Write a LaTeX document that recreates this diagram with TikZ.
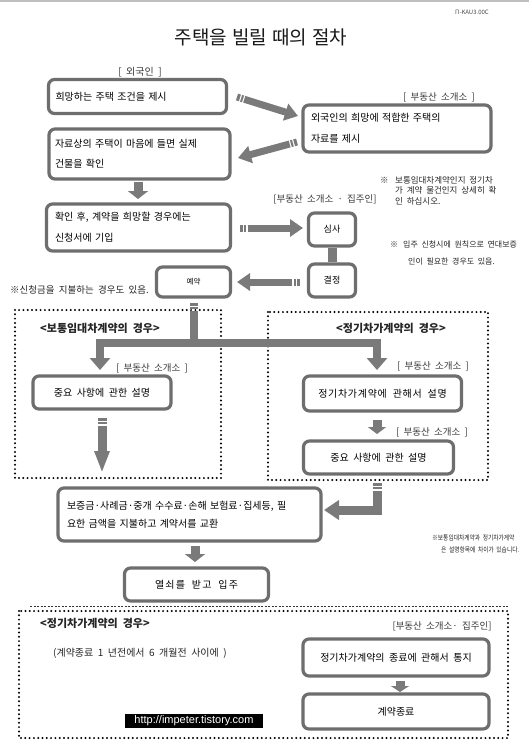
\documentclass[tikz,border=0pt]{standalone}
\usepackage{graphicx}
\usepackage{fontspec}
\setmainfont{Noto Sans CJK KR}[WordSpace=2]
\newfontfamily\urlfont{Liberation Sans}
\usetikzlibrary{arrows.meta}
\definecolor{boxgray}{HTML}{6E6E6E}
\definecolor{arrgray}{HTML}{7A7A7A}
\definecolor{lblgray}{HTML}{3A3A3A}
\newcommand{\fs}[2]{\fontsize{#1}{#2}\selectfont}
\begin{document}
\begin{tikzpicture}[x=1pt,y=-1pt,
  box/.style={draw=boxgray, line width=3.2pt, rounded corners=6pt, fill=white, inner sep=0pt, text=black},
  lbl/.style={text=lblgray, font=\fs{9.5}{9.5}, inner sep=0pt},
  note/.style={text=black!85, inner sep=0pt, anchor=base west},
  hdr/.style={text=black!85, font=\bfseries\fs{11}{11}, inner sep=0pt},
  fat/.style={draw=arrgray, line width=7pt, -{Triangle[length=13pt,width=17pt]}},
  tailstripe/.style={dash pattern=on 3pt off 1.3pt on 2pt off 1.3pt on 600pt},
  blockarr/.style={draw=arrgray, line width=9pt, -{Triangle[length=8pt,width=20pt]}},
  bar/.style={draw=arrgray, line width=8pt},
  dotframe/.style={draw=black, line width=2.2pt, line cap=round, dash pattern=on 0pt off 4.3pt}
]
\useasboundingbox (0,0) rectangle (529,756);
\fill[white] (0,0) rectangle (529,756);
\draw[black!25, line width=2pt] (0,1) -- (529,1);

% title and code
\node[inner sep=0pt, text=black!90, font=\fs{19}{19}] (title) at (261,37) {주택을\hspace{5pt}빌릴\hspace{5pt}때의\hspace{5pt}절차};
\node[inner sep=0pt, text=black!70, font=\fs{6}{6}] (code) at (472,12) {Π-KAU3.00C};

% labels
\node[lbl, font=\fs{10}{10}] (lfor) at (140,72) {[ 외국인 ]};
\node[lbl] (lre1) at (439,97) {[ 부동산 소개소 ]};
\node[lbl] (lre2) at (325,199) {[부동산 소개소 · 집주인]};
\node[lbl] (lre3) at (152,368) {[ 부동산 소개소 ]};
\node[lbl] (lre4) at (433,366) {[ 부동산 소개소 ]};
\node[lbl] (lre5) at (432,432) {[ 부동산 소개소 ]};
\node[lbl] (lre6) at (442,626) {[부동산 소개소· 집주인]};

% dotted frames
\draw[dotframe] (15,310) rectangle (221,478);
\draw[dotframe] (268,312) rectangle (488,480);
\draw[black!80, line width=0.6pt, dash pattern=on 2pt off 1.5pt] (30,606) -- (508,606);
\draw[dotframe] (19,611) rectangle (508,738);

% boxes
\node[box, minimum width=178pt, minimum height=34pt, text width=164pt, align=left, font=\fs{10}{20}] (b1) at (137.5,96.5) {희망하는 주택 조건을 제시};
\node[box, minimum width=188pt, minimum height=47pt, text width=172pt, align=left, font=\fs{10}{21}] (b2) at (397,128.5) {외국인의 희망에 적합한 주택의\\자료를 제시};
\node[box, minimum width=181pt, minimum height=50pt, text width=169pt, align=left, font=\fs{10}{20}] (b3) at (139.5,154) {\makebox[165pt][s]{자료상의 주택이 마음에 들면 실제}\\건물을 확인};
\node[box, minimum width=184pt, minimum height=47pt, text width=167pt, align=left, font=\fs{10}{21}] (b4) at (138.5,227.5) {\makebox[165pt][s]{확인 후, 계약을 희망할 경우에는}\\신청서에 기입};
\node[box, minimum width=47pt, minimum height=33pt, font=\fs{9}{9}] (sim) at (332,229.5) {심사};
\node[box, minimum width=47pt, minimum height=33pt, font=\fs{9}{9}] (gyeol) at (332,280.5) {결정};
\node[box, minimum width=74pt, minimum height=30pt, font=\fs{7.5}{7.5}] (ye) at (193.5,282) {예약};
\node[box, minimum width=138pt, minimum height=33pt, font=\fs{10}{10}] (l1) at (102,392.5) {중요 사항에 관한 설명};
\node[box, minimum width=158pt, minimum height=35pt, font=\fs{10}{10}\addfontfeatures{LetterSpace=7}] (r1) at (382.5,393.5) {정기차가계약에 관해서 설명};
\node[box, minimum width=150pt, minimum height=33pt, font=\fs{10}{10}] (r2) at (378.5,457.5) {중요 사항에 관한 설명};
\node[box, minimum width=263pt, minimum height=53pt, text width=245pt, align=left, font=\fs{10}{18}] (big) at (189.5,514.5) {\makebox[243pt][s]{보증금·사례금·중개 수수료·손해 보험료·집세등, 필}\\요한 금액을 지불하고 계약서를 교환};
\node[box, minimum width=144pt, minimum height=33pt, font=\fs{10}{10}\addfontfeatures{LetterSpace=12}] (key) at (196.5,584.5) {열쇠를 받고 입주};
\node[box, minimum width=186pt, minimum height=37pt, font=\fs{10}{10}] (e1) at (396,657.5) {정기차가계약의 종료에 관해서 통지};
\node[box, minimum width=186pt, minimum height=35pt, font=\fs{10}{10}] (e2) at (396,711.5) {계약종료};

% notes
\node[note, font=\fs{8.5}{8.5}] (n1s) at (380,183) {※};
\node[note, font=\fs{8.5}{8.5}] (n1a) at (395,183) {보통임대차계약인지 정기차};
\node[note, font=\fs{8.5}{8.5}] (n1b) at (395,193.5) {가 계약 물건인지 상세히 확};
\node[note, font=\fs{8.5}{8.5}] (n1c) at (395,204) {인 하십시오.};
\node[note, font=\fs{8}{8}] (n2s) at (390,247) {※};
\node[note, font=\fs{8}{8}] (n2a) at (403,247) {입주 신청시에 원칙으로 연대보증};
\node[note, font=\fs{8}{8}] (n2b) at (408,264) {인이 필요한 경우도 있음.};
\node[note, font=\fs{9.5}{9.5}] (n3) at (10,293) {※신청금을 지불하는 경우도 있음.};
\node[note] (n4a) at (432,540) {\scalebox{0.82}[1]{\fs{7}{7}※보통임대차계약과 정기차가계약}};
\node[note] (n4b) at (441,552) {\scalebox{0.82}[1]{\fs{7}{7}은 설명항목에 차이가 있습니다.}};
\node[note, font=\fs{10}{10}] (n5) at (53,656) {(계약종료 1 년전에서 6 개월전 사이에 )};

% headers
\node[hdr] (h1) at (100,328) {<보통임대차계약의 경우>};
\node[hdr] (h2) at (391,328) {<정기차가계약의 경우>};
\node[hdr] (h3) at (95,623) {<정기차가계약의 경우>};

% url
\node[fill=black, text=white, font=\urlfont\fs{11}{11}, minimum width=138pt, minimum height=14pt, inner sep=0pt] (url) at (194,721) {http://impeter.tistory.com};

% arrows
\coordinate (a1s) at (237,97);  \coordinate (a1e) at (298,116);
\coordinate (a2s) at (297,142); \coordinate (a2e) at (238,158);
\coordinate (a3s) at (138,182); \coordinate (a3e) at (138,199);
\coordinate (a4s) at (240,228); \coordinate (a4e) at (303,228);
\coordinate (a5s) at (300,282); \coordinate (a5e) at (237,282);
\coordinate (brs) at (194,303); \coordinate (brm) at (194,343);
\coordinate (brl) at (100,370); \coordinate (brr) at (377,370);
\coordinate (a6s) at (102,418); \coordinate (a6e) at (102,473);
\coordinate (a7s) at (377,420); \coordinate (a7e) at (377,434);
\coordinate (a8s) at (377,483); \coordinate (a8e) at (324,510);
\coordinate (a9s) at (195,546); \coordinate (a9e) at (195,562);
\coordinate (a10s) at (400,681); \coordinate (a10e) at (400,692);

\draw[fat, tailstripe] (a1s) -- (a1e);
\draw[fat, tailstripe] (a2s) -- (a2e);
\draw[blockarr] (a3s) -- (a3e);
\draw[fat, tailstripe] (a4s) -- (a4e);
\draw[bar, line width=9pt] (sim.south) -- (gyeol.north);
\draw[fat, tailstripe] (a5s) -- (a5e);
\draw[bar, tailstripe, line join=miter, -{Triangle[length=12pt,width=20pt]}] (brs) -- (brm) -| (brl);
\draw[bar, line join=miter, -{Triangle[length=12pt,width=20pt]}] (brm) -| (brr);
\draw[draw=arrgray, line width=9pt, tailstripe, -{Triangle[length=22pt,width=14pt]}] (a6s) -- (a6e);
\draw[blockarr, -{Triangle[length=7pt,width=18pt]}] (a7s) -- (a7e);
\draw[draw=arrgray, line width=9pt, tailstripe, line join=miter, -{Triangle[length=15pt,width=19pt]}] (a8s) |- (a8e);
\draw[blockarr] (a9s) -- (a9e);
\draw[blockarr, -{Triangle[length=6pt,width=18pt]}] (a10s) -- (a10e);
\end{tikzpicture}
\end{document}
